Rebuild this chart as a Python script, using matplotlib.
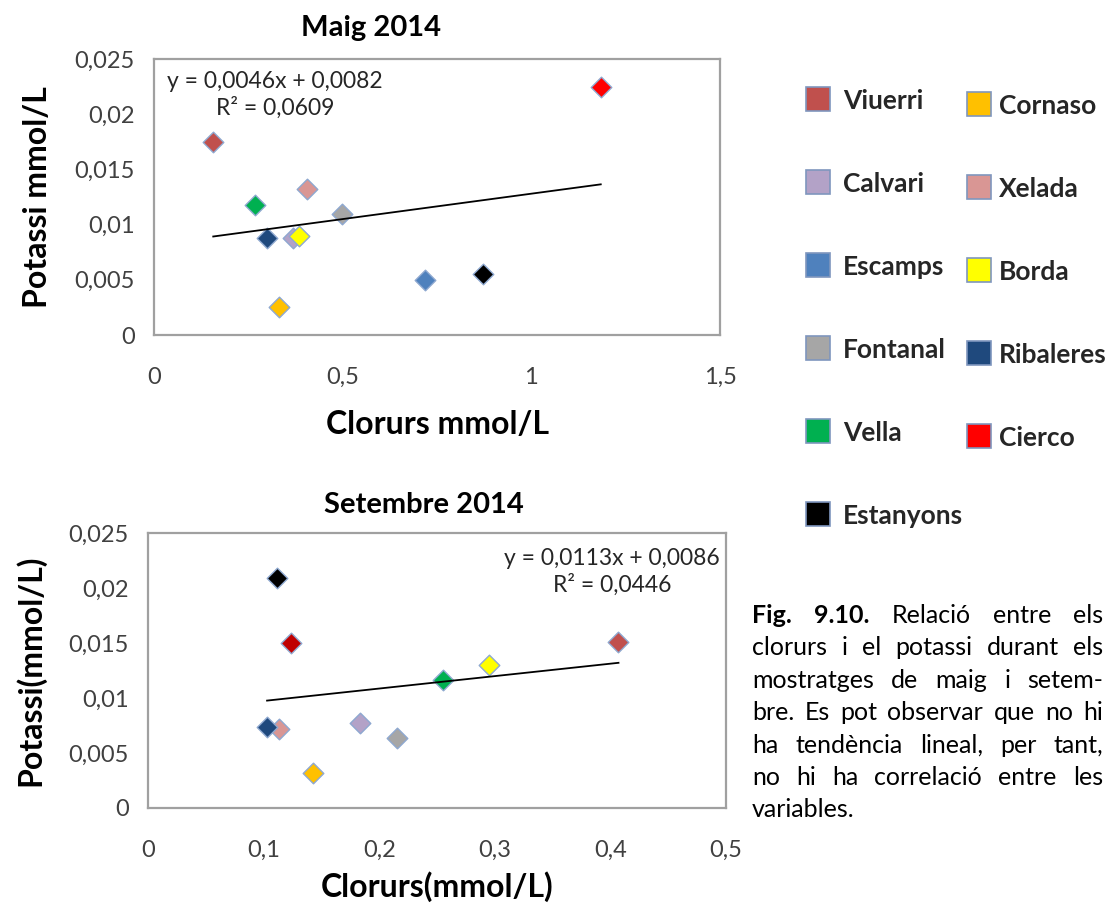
"""Chloride vs potassium scatter plots, May and September 2014."""

import matplotlib

matplotlib.use("Agg")
import matplotlib.pyplot as plt
import numpy as np
from matplotlib.patches import Rectangle
from matplotlib.ticker import FuncFormatter, MultipleLocator

plt.rcParams["font.family"] = ["Lato", "DejaVu Sans"]

# series order as in the spreadsheet (legend is filled row by row)
sites = ["Viuerri", "Cornaso", "Calvari", "Xelada", "Escamps", "Borda",
         "Fontanal", "Ribaleres", "Vella", "Cierco", "Estanyons"]
site_colors = ["#C0504D", "#FFC000", "#B3A2C7", "#D99694", "#4F81BD", "#FFFF00",
               "#A6A6A6", "#1F497D", "#00B050", "#FF0000", "#000000"]
sep_colors = site_colors[:9] + ["#C00000", "#000000"]

# Maig 2014
may_cl = [0.157, 0.330, 0.369, 0.406, 0.719, 0.385, 0.499, 0.300, 0.268, 1.184, 0.871]
may_k = [0.0175, 0.0025, 0.0088, 0.0132, 0.0050, 0.0090, 0.0110, 0.0088, 0.0118, 0.0225, 0.0055]
may_trend = (0.0046, 0.0082, 0.0609)  # slope, intercept, R2

# Setembre 2014 (no Escamps sample)
sep_cl = [0.407, 0.1425, 0.183, 0.113, np.nan, 0.295, 0.215, 0.103, 0.255, 0.1235, 0.112]
sep_k = [0.0151, 0.0032, 0.0077, 0.0072, np.nan, 0.0130, 0.0064, 0.0074, 0.0116, 0.0150, 0.0209]
sep_trend = (0.0113, 0.0086, 0.0446)

caption_lines = [
    "Fig. 9.10. Relació entre els",
    "clorurs i el potassi durant els",
    "mostratges de maig i setem-",
    "bre. Es pot observar que no hi",
    "ha tendència lineal, per tant,",
    "no hi ha correlació entre les",
    "variables.",
]
bold_words = {"Fig.", "9.10."}

W, H = 1110, 908
TEXT = "#262626"
TICK = "#404040"

fig = plt.figure(figsize=(W / 100, H / 100), dpi=100)


def px_axes(left, top, right, bottom):
    return fig.add_axes([left / W, 1 - bottom / H, (right - left) / W, (bottom - top) / H])


def comma(v, _pos=None):
    return f"{v:g}".replace(".", ",")


def draw_panel(ax, cl, k, colors, trend, xmax, xstep):
    for x, y, c in zip(cl, k, colors):
        if np.isnan(x):
            continue
        ax.scatter([x], [y], marker="D", s=110, color=c, edgecolor="#8EA8D0",
                   linewidth=1.0, zorder=3)
    slope, intercept, r2 = trend
    xs = np.array([np.nanmin(cl), np.nanmax(cl)])
    ax.plot(xs, slope * xs + intercept, color="black", lw=1.3, zorder=4)

    ax.set_xlim(0, xmax)
    ax.set_ylim(0, 0.025)
    ax.xaxis.set_major_locator(MultipleLocator(xstep))
    ax.yaxis.set_major_locator(MultipleLocator(0.005))
    ax.xaxis.set_major_formatter(FuncFormatter(comma))
    ax.yaxis.set_major_formatter(FuncFormatter(comma))
    ax.tick_params(axis="both", length=0, labelsize=17, labelcolor=TICK)
    ax.tick_params(axis="y", pad=14)
    ax.tick_params(axis="x", pad=23)
    for sp in ax.spines.values():
        sp.set_color("#A0A0A0")
        sp.set_linewidth(1.6)
    eq = f"y = {comma(slope)}x + {comma(intercept)}\nR² = {comma(r2)}"
    return eq


ax1 = px_axes(154, 59, 720, 335)
eq1 = draw_panel(ax1, may_cl, may_k, site_colors, may_trend, 1.5, 0.5)
ax1.text(0.214, 0.87, eq1, transform=ax1.transAxes, ha="center", va="center",
         multialignment="center", fontsize=16.5, color=TEXT, linespacing=1.25)
ax1.text(0.383, 1.112, "Maig 2014", transform=ax1.transAxes, ha="center",
         va="center", fontsize=21, fontweight="bold", color="black")
ax1.set_xlabel("Clorurs mmol/L", fontsize=23, fontweight="bold", color="black")
ax1.set_ylabel("Potassi mmol/L", fontsize=23, fontweight="bold", color="black")
ax1.xaxis.set_label_coords(0.5, -0.326)
ax1.yaxis.set_label_coords(-0.205, 0.5)
ax1.xaxis.label.set_va("center")
ax1.yaxis.label.set_va("center")

ax2 = px_axes(148, 533, 726, 808)
eq2 = draw_panel(ax2, sep_cl, sep_k, sep_colors, sep_trend, 0.5, 0.1)
ax2.text(0.803, 0.86, eq2, transform=ax2.transAxes, ha="center", va="center",
         multialignment="center", fontsize=16.5, color=TEXT, linespacing=1.25)
ax2.text(0.478, 1.102, "Setembre 2014", transform=ax2.transAxes, ha="center",
         va="center", fontsize=21, fontweight="bold", color="black")
ax2.set_xlabel("Clorurs(mmol/L)", fontsize=23, fontweight="bold", color="black")
ax2.set_ylabel("Potassi(mmol/L)", fontsize=23, fontweight="bold", color="black")
ax2.xaxis.set_label_coords(0.5, -0.287)
ax2.yaxis.set_label_coords(-0.204, 0.5)
ax2.xaxis.label.set_va("center")
ax2.yaxis.label.set_va("center")

# legend: two columns, filled row by row
sq = 24
for i, (name, color) in enumerate(zip(sites, site_colors)):
    row, col = divmod(i, 2)
    x0 = 806 if col == 0 else 967
    yc = 99 + 83 * row + (5 if col == 1 else 0)
    fig.add_artist(Rectangle((x0 / W, 1 - (yc + sq / 2) / H), sq / W, sq / H,
                             transform=fig.transFigure, facecolor=color,
                             edgecolor="#7F96BE", linewidth=1.2))
    gap = 13 if col == 0 else 8
    fig.text((x0 + sq + gap) / W, 1 - (yc + 2) / H, name, fontsize=19,
             fontweight="bold", color=TEXT, va="center", ha="left")

# justified caption
fig.canvas.draw()
renderer = fig.canvas.get_renderer()
x_left, x_right = 752, 1103
for n, line in enumerate(caption_lines):
    words = line.split()
    y = 1 - (623 + 32.4 * n) / H
    texts = [fig.text(0, y, w, fontsize=18, color="black", va="baseline",
                      fontweight="bold" if w in bold_words else "normal")
             for w in words]
    widths = [t.get_window_extent(renderer).width for t in texts]
    if n < len(caption_lines) - 1 and len(words) > 1:
        gap = (x_right - x_left - sum(widths)) / (len(words) - 1)
    else:
        gap = 5
    x = x_left
    for t, w in zip(texts, widths):
        t.set_x(x / W)
        x += w + gap

fig.savefig("out.png", dpi=100, facecolor="white")
